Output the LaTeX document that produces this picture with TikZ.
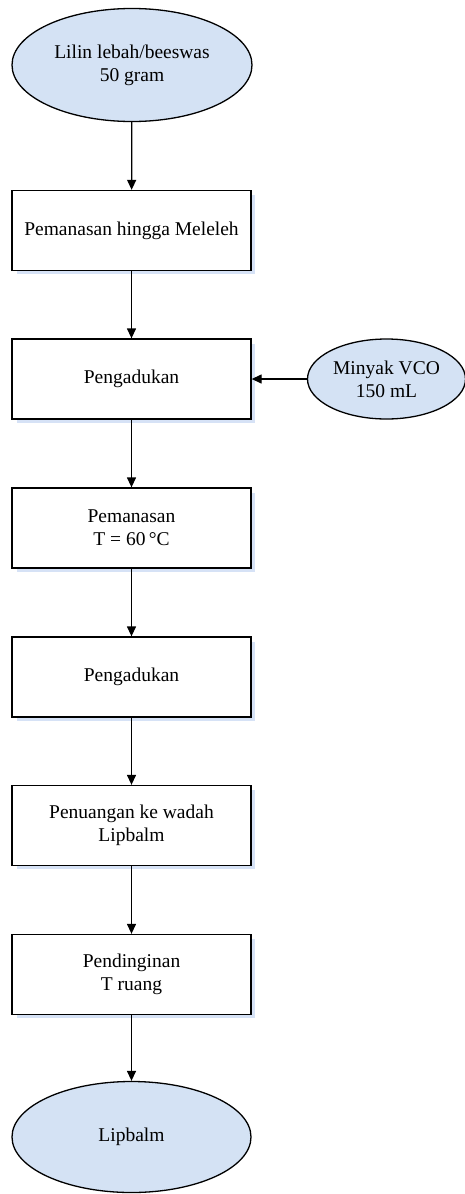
\documentclass[tikz,border=0pt]{standalone}
\usepackage{fontspec}
\setmainfont{Liberation Serif}
\usetikzlibrary{arrows.meta,shapes.geometric}
\definecolor{ellfill}{RGB}{212,226,244}
\definecolor{shadowc}{RGB}{214,226,246}
\begin{document}
\begin{tikzpicture}[x=1pt,y=-1pt,
  every node/.style={font=\fontsize{19.5}{22.7}\selectfont, align=center, inner sep=0pt},
  procbox/.style={draw=black, line width=1.3pt, fill=white, rectangle, minimum width=239pt, minimum height=80pt},
  termell/.style={draw=black, line width=1.3pt, fill=ellfill, ellipse},
  flow/.style={draw=black, line width=1.3pt, -{Triangle[length=10pt,width=9pt]}},
  shadowbox/.style={fill=shadowc}]
\useasboundingbox (0,0) rectangle (465,1194);
% shadows
\foreach \y in {230.5,379,528,677,825.5,974.5}{
  \fill[shadowc] (16.5,\y-35.5) rectangle (254.5,\y+43.5);
}
\node[termell, minimum width=240pt, minimum height=113pt] (e1) at (132,65) {Lilin lebah/beeswas\\50 gram};
\node[procbox] (b1) at (131.5,230.5) {Pemanasan hingga Meleleh};
\node[procbox] (b2) at (131.5,379) {Pengadukan};
\node[termell, minimum width=158pt, minimum height=80pt] (vco) at (386.5,379) {Minyak VCO\\150 mL};
\node[procbox] (b3) at (131.5,528) {Pemanasan\\T = 60\,°C};
\node[procbox] (b4) at (131.5,677) {Pengadukan};
\node[procbox] (b5) at (131.5,825.5) {Penuangan ke wadah\\Lipbalm};
\node[procbox] (b6) at (131.5,974.5) {Pendinginan\\T ruang};
\node[termell, minimum width=239pt, minimum height=111pt] (e2) at (131.5,1137) {Lipbalm};
\draw[flow] (e1) -- (b1);
\draw[flow] (b1) -- (b2);
\draw[flow] (vco) -- (b2);
\draw[flow] (b2) -- (b3);
\draw[flow] (b3) -- (b4);
\draw[flow] (b4) -- (b5);
\draw[flow] (b5) -- (b6);
\draw[flow] (b6) -- (e2);
\end{tikzpicture}
\end{document}
